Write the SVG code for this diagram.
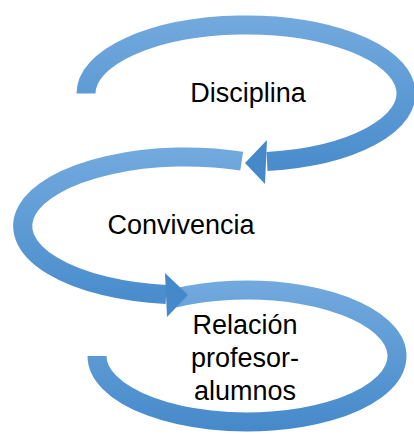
<svg xmlns="http://www.w3.org/2000/svg" width="414" height="435" viewBox="0 0 414 435">
  <defs>
    <linearGradient id="g1" gradientUnits="userSpaceOnUse" x1="0" y1="15" x2="0" y2="185">
      <stop offset="0" stop-color="#73AADE"/>
      <stop offset="1" stop-color="#4589CA"/>
    </linearGradient>
    <linearGradient id="g2" gradientUnits="userSpaceOnUse" x1="0" y1="147" x2="0" y2="318">
      <stop offset="0" stop-color="#73AADE"/>
      <stop offset="1" stop-color="#4589CA"/>
    </linearGradient>
    <linearGradient id="g3" gradientUnits="userSpaceOnUse" x1="0" y1="280" x2="0" y2="433">
      <stop offset="0" stop-color="#73AADE"/>
      <stop offset="1" stop-color="#4589CA"/>
    </linearGradient>
  </defs>
  <style>
    .band { fill: none; stroke-width: 19; stroke-linecap: butt; }
    .label { font-family: "Liberation Sans", Arial, sans-serif; font-size: 27px; fill: #000000; text-anchor: middle; }
  </style>
  <g id="connectors">
    <g id="arrow3">
      <path class="band" stroke="url(#g3)" d="M 174.3 298.3 A 150 66 0 1 1 97 356"/>
    </g>
    <g id="arrow2">
      <path class="band" stroke="url(#g2)" d="M 241.7 161.2 A 163 69 0 1 0 166.1 294.5"/>
      <polygon fill="#4589CA" points="165,273 188,295 167,317"/>
    </g>
    <g id="arrow1">
      <path class="band" stroke="url(#g1)" d="M 86 93.5 A 160 68.5 0 1 1 267 161.4"/>
      <polygon fill="#4589CA" points="267,140 245,163 265,184"/>
    </g>
  </g>
  <g id="node-disciplina">
    <text class="label" x="248" y="102">Disciplina</text>
  </g>
  <g id="node-convivencia">
    <text class="label" x="181" y="234">Convivencia</text>
  </g>
  <g id="node-relacion">
    <text class="label" x="245" y="334">Relación</text>
    <text class="label" x="245" y="367">profesor-</text>
    <text class="label" x="245" y="400">alumnos</text>
  </g>
</svg>
